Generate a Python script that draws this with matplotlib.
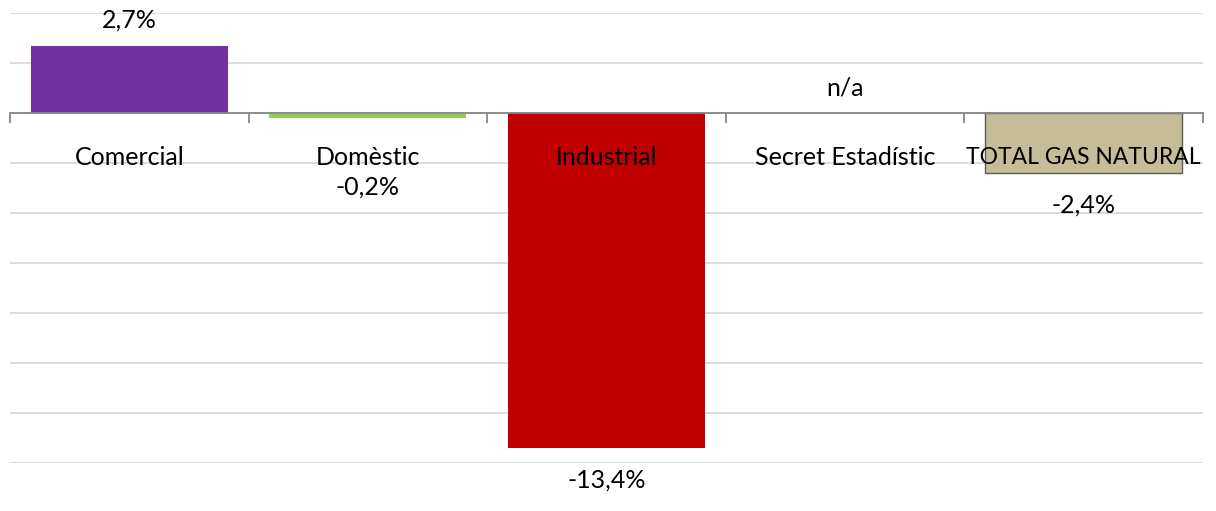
import numpy as np
import matplotlib.pyplot as plt

categories = ["Comercial", "Domèstic", "Industrial", "Secret Estadístic", "TOTAL GAS NATURAL"]
values = [2.7, -0.2, -13.4, np.nan, -2.4]
labels = ["2,7%", "-0,2%", "-13,4%", "n/a", "-2,4%"]
colors = ["#7030A0", "#92D050", "#C00000", "#FFFFFF", "#C4BD97"]
edges = ["none", "none", "none", "none", "#5F5F50"]
# label offsets in points from bar end (or from axis for n/a)
label_offsets = [18, -50, -23, 18, -23]
cat_sizes = [18, 18, 18, 18, 16.5]

plt.rcParams['font.family'] = ['Lato', 'DejaVu Sans']

fig = plt.figure(figsize=(12.16, 5.11), dpi=100)
ax = fig.add_axes([10 / 1216, 1 - 463 / 511, 1193 / 1216, 450 / 511])

x = np.arange(len(categories))
for i, v in enumerate(values):
    if np.isnan(v):
        continue
    ax.bar(x[i], v, width=0.825, color=colors[i], edgecolor=edges[i],
           linewidth=1.0 if edges[i] != "none" else 0, zorder=2)

ax.set_xlim(-0.5, len(categories) - 0.5)
ax.set_ylim(-14, 4)
ax.set_yticks(np.arange(-14, 5, 2))
ax.yaxis.grid(True, color="#D9D9D9", linewidth=1.3, zorder=0)
ax.set_axisbelow(True)
ax.tick_params(axis="y", left=False, labelleft=False)

for s in ["top", "right", "left"]:
    ax.spines[s].set_visible(False)
ax.spines["bottom"].set_position(("data", 0))
ax.spines["bottom"].set_color("#868686")
ax.spines["bottom"].set_linewidth(1.3)
ax.spines["bottom"].set_zorder(3)
ax.set_xticks(np.arange(-0.5, len(categories), 1.0))
ax.tick_params(axis="x", direction="out", length=7, width=1.3, color="#868686",
               labelbottom=False)

# category names, drawn over the bars
for i, c in enumerate(categories):
    ax.annotate(c, (x[i], 0), xytext=(0, -32), textcoords="offset points",
                ha="center", va="center", fontsize=cat_sizes[i], color="black", zorder=5)

# value labels
for i, v in enumerate(values):
    base = 0 if np.isnan(v) else v
    ax.annotate(labels[i], (x[i], base), xytext=(0, label_offsets[i]),
                textcoords="offset points", ha="center", va="center",
                fontsize=18, color="black", zorder=5, annotation_clip=False)

fig.savefig("out.png", dpi=100)
